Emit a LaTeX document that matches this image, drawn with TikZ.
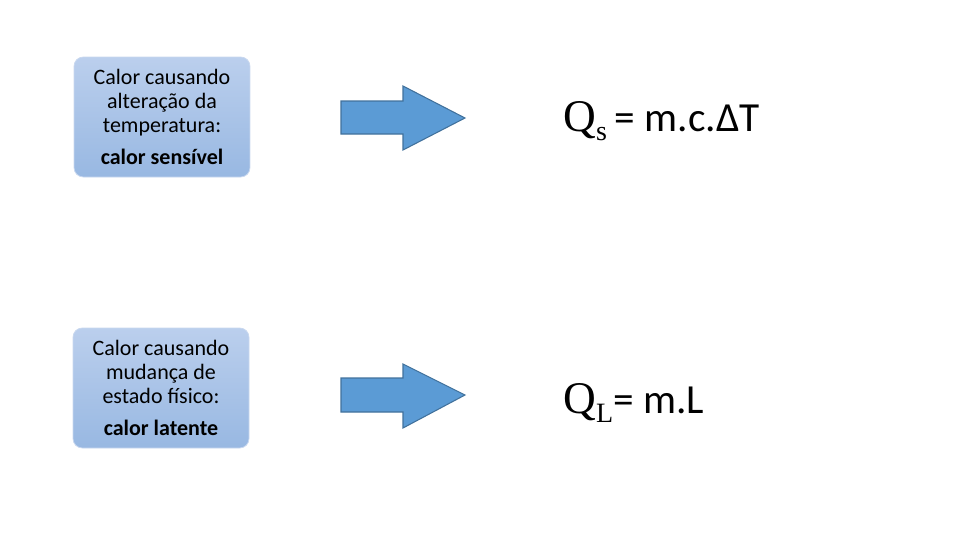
\documentclass[tikz,border=0pt]{standalone}
\usepackage{fontspec}
\setmainfont{Carlito}
\newfontfamily\qfont{Liberation Serif}
\definecolor{boxtop}{HTML}{BBCFED}
\definecolor{boxbot}{HTML}{98B8E2}
\definecolor{boxline}{HTML}{C9D8EF}
\definecolor{arrowblue}{HTML}{5B9BD5}
\definecolor{arrowedge}{HTML}{41719C}
\tikzset{
  heatbox/.style={rounded corners=7pt, top color=boxtop, bottom color=boxbot,
    draw=boxline, line width=0.6pt, minimum width=132pt, minimum height=90pt,
    align=center, inner sep=0pt, font=\fontsize{16.5}{18}\selectfont},
  bigarrow/.style={fill=arrowblue, draw=arrowedge, line width=0.8pt},
  formula/.style={anchor=base west, inner sep=0pt, font=\fontsize{31}{38}\selectfont}
}
\begin{document}
\begin{tikzpicture}[x=0.75pt, y=-0.75pt]
\useasboundingbox (0,0) rectangle (960,540);

\node[heatbox] (sensivel) at (162,117) {Calor causando\\alteração da\\temperatura:\\[6pt]\textbf{calor sensível}};
\draw[bigarrow] (341,101) -- (403,101) -- (403,86) -- (465,118) -- (403,150) -- (403,134) -- (341,134) -- cycle;
\node[formula] (qs) at (563,131) {{\qfont\fontsize{34}{38}\selectfont Q\raisebox{-0.2em}{\fontsize{21}{24}\selectfont s}}\hspace{-1pt} = m.c.ΔT};

\node[heatbox] (latente) at (161,388) {Calor causando\\mudança de\\estado físico:\\[6pt]\textbf{calor latente}};
\draw[bigarrow] (341,378) -- (403,378) -- (403,364) -- (465,395) -- (403,428) -- (403,412) -- (341,412) -- cycle;
\node[formula] (ql) at (563,413) {{\qfont\fontsize{34}{38}\selectfont Q\raisebox{-0.2em}{\fontsize{21}{24}\selectfont L}}= m.L};
\end{tikzpicture}
\end{document}
